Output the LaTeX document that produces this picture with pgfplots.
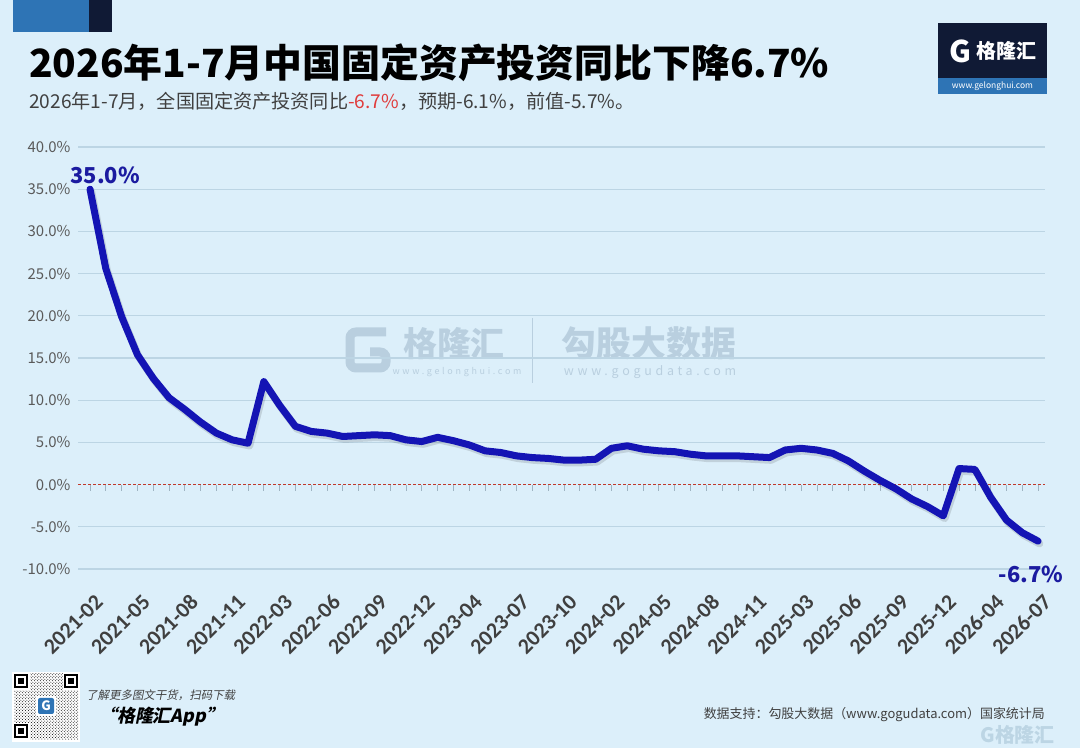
\documentclass[border=0pt]{standalone}
\usepackage{pgfplots}
\pgfplotsset{compat=1.18}
\usepackage{pgfplotstable}
\usepackage{fontspec}
\setmainfont{Noto Sans CJK SC}
\newfontfamily\calibri{Carlito}
\newfontfamily\cjkslant[FakeSlant=0.2]{Noto Sans CJK SC}
\newfontfamily\spaced[LetterSpace=30]{Noto Sans CJK SC}
\usetikzlibrary{patterns}
\definecolor{bg}{HTML}{DCEFFA}
\definecolor{gridc}{HTML}{BCD5E4}
\definecolor{ytl}{HTML}{5A5A5A}
\definecolor{xtl}{HTML}{3F3F3F}
\definecolor{linec}{HTML}{1414B4}
\definecolor{labc}{HTML}{1B1BA0}
\definecolor{subc}{HTML}{404040}
\definecolor{redc}{HTML}{E03C3C}
\definecolor{zeroc}{HTML}{C0392B}
\definecolor{tickc}{HTML}{9FB4C2}
\definecolor{wm}{HTML}{B9CFDF}
\definecolor{navy}{HTML}{101A35}
\definecolor{lblue}{HTML}{2E74B5}

\pgfplotstableread{
x y
0 35.0
1 25.6
2 19.9
3 15.4
4 12.6
5 10.3
6 8.9
7 7.4
8 6.1
9 5.3
10 4.9
11 12.2
12 9.4
13 6.9
14 6.3
15 6.1
16 5.7
17 5.8
18 5.9
19 5.8
20 5.3
21 5.1
22 5.6
23 5.2
24 4.7
25 4.0
26 3.8
27 3.4
28 3.2
29 3.1
30 2.9
31 2.9
32 3.0
33 4.3
34 4.6
35 4.2
36 4.0
37 3.9
38 3.6
39 3.4
40 3.4
41 3.4
42 3.3
43 3.2
44 4.1
45 4.3
46 4.1
47 3.7
48 2.8
49 1.6
50 0.5
51 -0.5
52 -1.7
53 -2.6
54 -3.7
55 1.9
56 1.8
57 -1.5
58 -4.2
59 -5.7
60 -6.7
}\fai

\begin{document}
\begin{tikzpicture}[x=1bp,y=1bp]
\fill[bg] (0,0) rectangle (1080,748);
\useasboundingbox (0,0) rectangle (1080,748);

% top-left decoration
\fill[lblue] (13,748) rectangle (89,716);
\fill[navy] (89,748) rectangle (112,716);

% title and subtitle
\node[anchor=base west, inner sep=0, text=black] at (29,670)
  {\bfseries\fontsize{39}{43}\selectfont 2026年1-7月中国固定资产投资同比下降6.7\%};
\node[anchor=base west, inner sep=0, text=subc] at (29,639)
  {\fontsize{19.2}{22}\selectfont 2026年1-7月，全国固定资产投资同比\textcolor{redc}{-6.7\%}，预期-6.1\%，前值-5.7\%。};

% top-right logo
\fill[navy] (938,725) rectangle (1047,654);
\fill[lblue] (938,670) rectangle (1047,654);
\node[text=white, inner sep=0] at (992.5,662) {\fontsize{8.5}{9}\selectfont www.gelonghui.com};
\node[text=white, inner sep=0] at (960,697) {\bfseries\fontsize{30}{30}\selectfont G};
\node[text=white, inner sep=0, anchor=west] at (976,697) {\bfseries\fontsize{20}{22}\selectfont 格隆汇};

% watermark
\draw[wm, line width=9bp, rounded corners=6bp] (386,416) -- (350,416) -- (350,380) -- (386,380) -- (386,396) -- (370,396);
\node[text=wm, inner sep=0, anchor=west] at (403,404) {\bfseries\fontsize{34}{36}\selectfont 格隆汇};
\node[text=wm, inner sep=0] at (457,376) {\spaced\fontsize{9}{10}\selectfont www.gelonghui.com};
\draw[wm, line width=1bp] (532,430) -- (532,365);
\node[text=wm, inner sep=0] at (649,405) {\bfseries\fontsize{35}{37}\selectfont 勾股大数据};
\node[text=wm, inner sep=0] at (650,376) {\spaced\fontsize{12.5}{13}\selectfont www.gogudata.com};

% axis A: grid, tick labels
\begin{axis}[
  at={(78bp,179bp)}, anchor=south west, scale only axis,
  width=967bp, height=422bp,
  xmin=-0.76, xmax=60.44, ymin=-10, ymax=40,
  axis line style={draw=none},
  major tick length=0pt,
  ytick={-10,-5,5,10,15,20,25,30,35,40},
  yticklabels={-10.0\%,-5.0\%,5.0\%,10.0\%,15.0\%,20.0\%,25.0\%,30.0\%,35.0\%,40.0\%},
  extra y ticks={0}, extra y tick labels={0.0\%},
  extra y tick style={ymajorgrids=false},
  ymajorgrids, grid style={color=gridc, line width=1.3bp},
  yticklabel style={font=\fontsize{15}{16}\selectfont, text=ytl, xshift=-4bp},
  xtick={0,3,...,60},
  xticklabels={2021-02,2021-05,2021-08,2021-11,2022-03,2022-06,2022-09,2022-12,2023-04,2023-07,2023-10,2024-02,2024-05,2024-08,2024-11,2025-03,2025-06,2025-09,2025-12,2026-04,2026-07},
  xticklabel style={xshift=4bp, yshift=-24bp, rotate=45, anchor=north east, inner sep=0pt,
    font=\calibri\bfseries\fontsize{22}{22}\selectfont, text=xtl},
]
\end{axis}

% axis B: zero line, small ticks, data line
\begin{axis}[
  at={(78bp,179bp)}, anchor=south west, scale only axis,
  width=967bp, height=422bp,
  xmin=-0.76, xmax=60.44, ymin=-10, ymax=40,
  axis x line=middle, axis y line=none,
  axis line style={-, color=zeroc, dash pattern=on 3bp off 2bp, line width=0.9bp},
  xtick={0,...,60}, xticklabels={},
  ytick=\empty,
  tick align=outside, major tick length=6bp,
  tick style={solid, color=tickc, line width=0.7bp},
  clip=false,
]
\addplot[line width=7.5bp, color=black, opacity=0.12, line join=round, line cap=round,
  xshift=1.5bp, yshift=-2.5bp] table[x=x,y=y] {\fai};
\addplot[line width=7bp, color=linec, line join=round, line cap=round] table[x=x,y=y] {\fai};
\node[text=labc, inner sep=0] at (axis cs:0.95,36.6) {\bfseries\fontsize{22}{24}\selectfont 35.0\%};
\node[text=labc, inner sep=0] at (axis cs:59.56,-10.66) {\bfseries\fontsize{22}{24}\selectfont -6.7\%};
\end{axis}

% QR code
\fill[white] (12,76) rectangle (80,6);
\fill[pattern=crosshatch dots, pattern color=black] (14,74) rectangle (78,8);
\foreach \a/\b in {14/74, 64/74, 14/24}{
  \fill[white] (\a-1,\b+1) rectangle (\a+16,\b-16);
  \fill[black] (\a,\b) rectangle (\a+14,\b-14);
  \fill[white] (\a+2,\b-2) rectangle (\a+12,\b-12);
  \fill[black] (\a+4,\b-4) rectangle (\a+10,\b-10);
}
\fill[white] (36,52) rectangle (56,32);
\fill[lblue, rounded corners=2bp] (38,50) rectangle (54,34);
\node[text=white, inner sep=0] at (46,42) {\bfseries\fontsize{13}{13}\selectfont G};

% bottom texts
\node[anchor=west, inner sep=0, text=subc] at (86,53)
  {\cjkslant\fontsize{11.5}{12}\selectfont 了解更多图文干货，扫码下载};
\node[anchor=west, inner sep=0, text=black] at (99,31)
  {\cjkslant\bfseries\fontsize{18}{20}\selectfont “格隆汇App”};
\node[anchor=east, inner sep=0, text=subc] at (1045,33)
  {\fontsize{13}{15}\selectfont 数据支持：勾股大数据（www.gogudata.com）国家统计局};
\node[anchor=east, inner sep=0, text=gridc] at (1055,13)
  {\bfseries\fontsize{20}{22}\selectfont G格隆汇};
\end{tikzpicture}
\end{document}
